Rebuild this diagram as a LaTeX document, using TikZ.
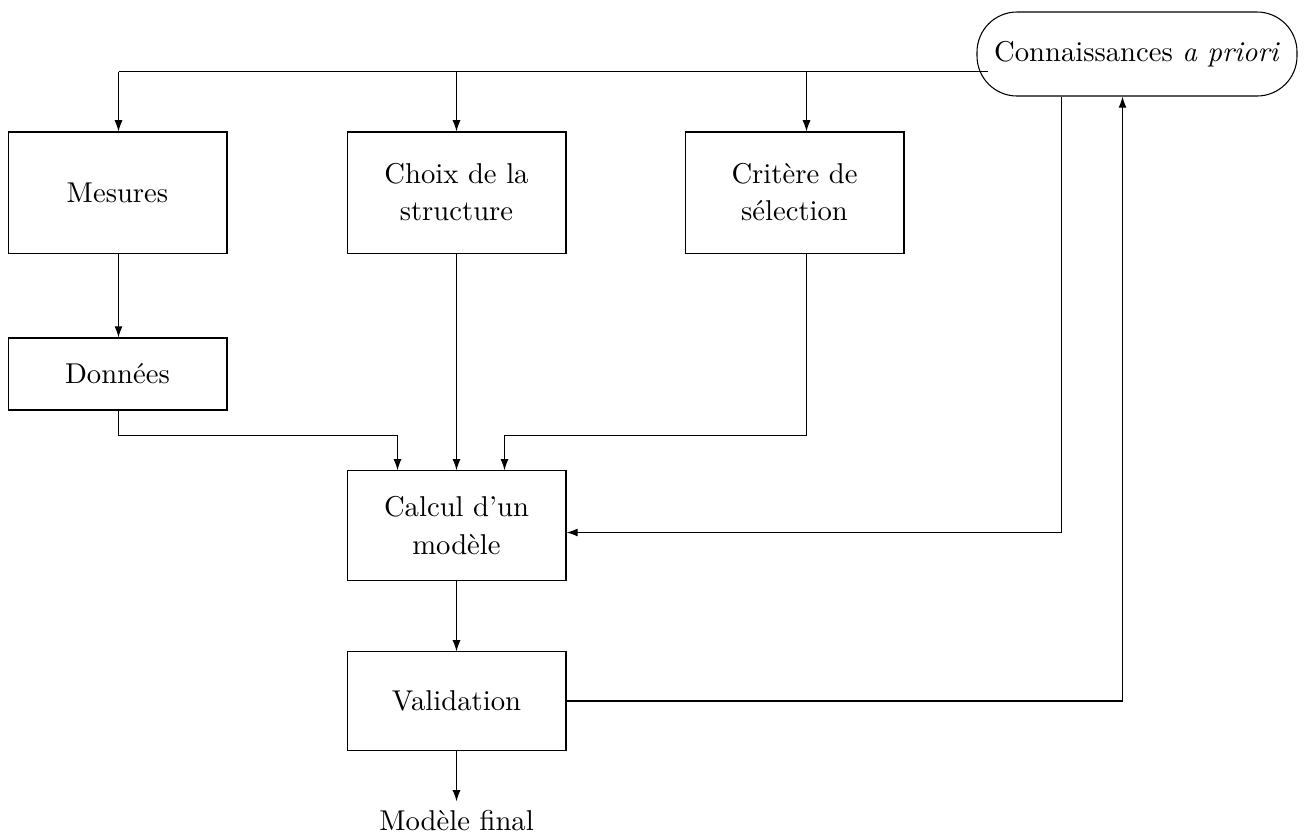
\documentclass[tikz,border=0pt]{standalone}
\usetikzlibrary{arrows.meta}
\begin{document}
\begin{tikzpicture}[x=0.375pt,y=-0.375pt,
  txt/.style={font=\fontsize{10.75}{13.9}\selectfont},
  box/.style={draw,line width=0.4pt,minimum width=82.1pt,align=center,inner sep=0pt,txt},
  link/.style={line width=0.4pt,-{Latex[length=4.2pt,width=3pt]}},
  plain/.style={line width=0.4pt}]
\useasboundingbox (0,0) rectangle (1307,835);
\node[box,minimum height=45.4pt] (mes) at (117.5,192.5) {Mesures};
\node[box,minimum height=45.4pt] (cho) at (456.5,192.5) {Choix de la\\structure};
\node[box,minimum height=45.4pt] (cri) at (794.5,192.5) {Critère de\\sélection};
\node[box,minimum height=27pt] (don) at (117.5,374) {Données};
\node[box,minimum height=41pt] (cal) at (456.5,525.5) {Calcul d'un\\modèle};
\node[box,minimum height=36.8pt] (val) at (456.5,701) {Validation};
\node[txt] (fin) at (456.5,821) {Modèle final};
\node[draw,line width=0.4pt,rounded corners=15pt,minimum width=120pt,minimum height=31.5pt,inner sep=0pt,txt] (con) at (1137,54) {Connaissances \textit{a priori}};
\coordinate (ce) at (988,71.5);
\draw[plain] (ce) -- (118.5,71.5);
\draw[link] (118.5,71.5) -- (mes.north -| 118.5,0);
\draw[link] (456.5,71.5) -- (cho.north);
\draw[link] (806.5,71.5) -- (cri.north -| 806.5,0);
\draw[link] (mes.south -| 118.5,0) -- (don.north -| 118.5,0);
\draw[link] (don.south -| 118.5,0) |- (397.5,435.5) -- (cal.north -| 397.5,0);
\draw[link] (cho) -- (cal);
\draw[link] (cri.south -| 806.5,0) |- (504.5,435.5) -- (cal.north -| 504.5,0);
\draw[link] (con.south -| 1061.5,0) |- (cal.east |- 0,532.5);
\draw[link] (val.east) -| (con.south -| 1122.5,0);
\draw[link] (cal) -- (val);
\draw[link] (val.south) -- (fin.north);
\end{tikzpicture}
\end{document}
